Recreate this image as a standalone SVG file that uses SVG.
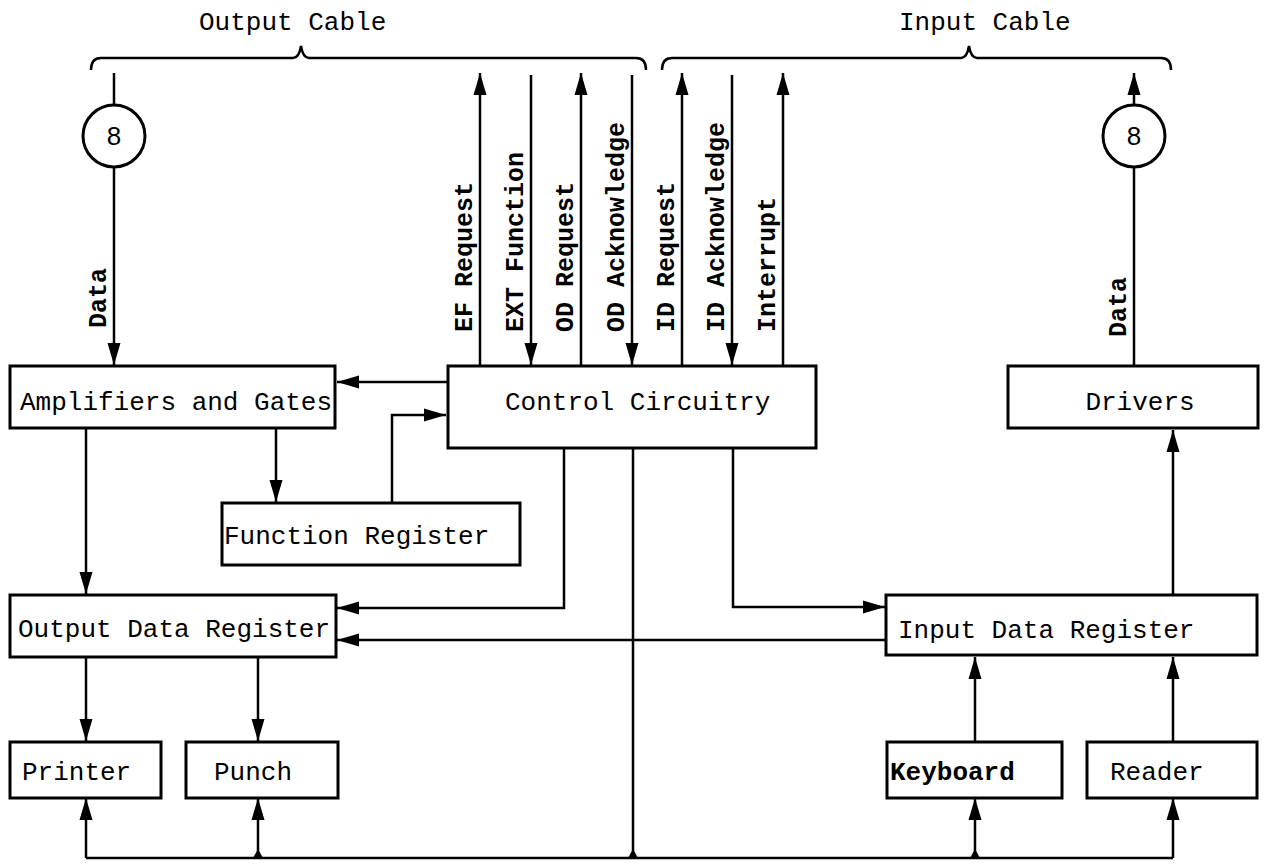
<svg xmlns="http://www.w3.org/2000/svg" width="1264" height="867" viewBox="0 0 1264 867">
<defs>
<marker id="ah" viewBox="0 0 22 14" markerWidth="22" markerHeight="14" refX="22" refY="7" orient="auto" markerUnits="userSpaceOnUse">
<path d="M0,0.5 L22,7 L0,13.5 Z" fill="#000"/>
</marker>
<style>
.box{fill:#fff;stroke:#000;stroke-width:3}
.t{font-family:"Liberation Mono",monospace;font-size:26px;fill:#000}
.v{font-family:"Liberation Mono",monospace;font-size:25px;font-weight:bold;fill:#000}
.c{fill:none;stroke:#000;stroke-width:2.5}
.a{fill:none;stroke:#000;stroke-width:2.5;marker-end:url(#ah)}
.br{fill:none;stroke:#000;stroke-width:2.5}
</style>
</defs>
<rect width="1264" height="867" fill="#fff"/>

<g id="cables">
<text class="t" x="199" y="30">Output Cable</text>
<path class="br" d="M91,70 Q91,58 101,58 L293,58 Q299,58 301,46 Q303,58 309,58 L636,58 Q646,58 646,70"/>
<text class="t" x="899" y="30">Input Cable</text>
<path class="br" d="M662,70 Q662,58 672,58 L961,58 Q967,58 969,46 Q971,58 977,58 L1161,58 Q1171,58 1171,70"/>
</g>

<g id="connectors">
<line class="c" x1="114" y1="73" x2="114" y2="105"/>
<line class="a" x1="114" y1="167" x2="114" y2="365"/>
<line class="c" x1="1134" y1="366" x2="1134" y2="167"/>
<line class="a" x1="1134" y1="105" x2="1134" y2="73"/>
<line class="a" x1="480" y1="366" x2="480" y2="73"/>
<line class="a" x1="531" y1="75" x2="531" y2="365"/>
<line class="a" x1="581" y1="366" x2="581" y2="73"/>
<line class="a" x1="632" y1="75" x2="632" y2="365"/>
<line class="a" x1="682" y1="366" x2="682" y2="73"/>
<line class="a" x1="732" y1="75" x2="732" y2="365"/>
<line class="a" x1="783" y1="366" x2="783" y2="73"/>
<line class="a" x1="448" y1="382" x2="337" y2="382"/>
<polyline class="a" points="392,503 392,415 446,415"/>
<line class="a" x1="276" y1="428" x2="276" y2="502"/>
<line class="a" x1="86" y1="428" x2="86" y2="594"/>
<polyline class="a" points="564,448 564,608 337,608"/>
<line class="a" x1="886" y1="640" x2="337" y2="640"/>
<polyline class="a" points="733,448 733,607 885,607"/>
<line class="c" x1="633" y1="448" x2="633" y2="858"/>
<line class="c" x1="86" y1="858" x2="1173" y2="858"/>
<line class="a" x1="86" y1="858" x2="86" y2="798"/>
<line class="a" x1="258" y1="858" x2="258" y2="798"/>
<line class="a" x1="975" y1="858" x2="975" y2="798"/>
<line class="a" x1="1173" y1="858" x2="1173" y2="798"/>
<polygon points="253,858 258,849 263,858" fill="#000"/>
<polygon points="628,858 633,849 638,858" fill="#000"/>
<polygon points="970,858 975,849 980,858" fill="#000"/>
<line class="a" x1="86" y1="657" x2="86" y2="741"/>
<line class="a" x1="258" y1="657" x2="258" y2="741"/>
<line class="a" x1="975" y1="742" x2="975" y2="657"/>
<line class="a" x1="1173" y1="742" x2="1173" y2="657"/>
<line class="a" x1="1173" y1="595" x2="1173" y2="430"/>
</g>

<g id="labels">
<text class="v" transform="translate(106,328) rotate(-90)">Data</text>
<text class="v" transform="translate(1126,337) rotate(-90)">Data</text>
<text class="v" transform="translate(472,332) rotate(-90)">EF Request</text>
<text class="v" transform="translate(523,332) rotate(-90)">EXT Function</text>
<text class="v" transform="translate(573,332) rotate(-90)">OD Request</text>
<text class="v" transform="translate(624,332) rotate(-90)">OD Acknowledge</text>
<text class="v" transform="translate(674,332) rotate(-90)">ID Request</text>
<text class="v" transform="translate(724,332) rotate(-90)">ID Acknowledge</text>
<text class="v" transform="translate(775,332) rotate(-90)">Interrupt</text>
</g>

<g id="mux-out">
<circle cx="114" cy="136" r="31" fill="#fff" stroke="#000" stroke-width="3"/>
<text x="114" y="145" text-anchor="middle" font-family="Liberation Sans, sans-serif" font-size="26">8</text>
</g>
<g id="mux-in">
<circle cx="1134" cy="136" r="31" fill="#fff" stroke="#000" stroke-width="3"/>
<text x="1134" y="145" text-anchor="middle" font-family="Liberation Sans, sans-serif" font-size="26">8</text>
</g>

<g id="amplifiers">
<rect class="box" x="10" y="366" width="325" height="62"/>
<text class="t" x="20" y="410">Amplifiers and Gates</text>
</g>
<g id="control">
<rect class="box" x="448" y="366" width="368" height="82"/>
<text class="t" x="505" y="410">Control Circuitry</text>
</g>
<g id="drivers">
<rect class="box" x="1008" y="366" width="250" height="62"/>
<text class="t" x="1140" y="410" text-anchor="middle">Drivers</text>
</g>
<g id="function-register">
<rect class="box" x="222" y="503" width="298" height="62"/>
<text class="t" x="224" y="544">Function Register</text>
</g>
<g id="output-data-register">
<rect class="box" x="10" y="595" width="326" height="62"/>
<text class="t" x="18" y="637">Output Data Register</text>
</g>
<g id="input-data-register">
<rect class="box" x="886" y="595" width="371" height="60"/>
<text class="t" x="898" y="638">Input Data Register</text>
</g>
<g id="printer">
<rect class="box" x="10" y="742" width="151" height="56"/>
<text class="t" x="22" y="780">Printer</text>
</g>
<g id="punch">
<rect class="box" x="186" y="742" width="152" height="56"/>
<text class="t" x="214" y="780">Punch</text>
</g>
<g id="keyboard">
<rect class="box" x="887" y="742" width="175" height="56"/>
<text class="t" x="890" y="780" font-weight="bold">Keyboard</text>
</g>
<g id="reader">
<rect class="box" x="1087" y="742" width="170" height="56"/>
<text class="t" x="1110" y="780">Reader</text>
</g>
</svg>
